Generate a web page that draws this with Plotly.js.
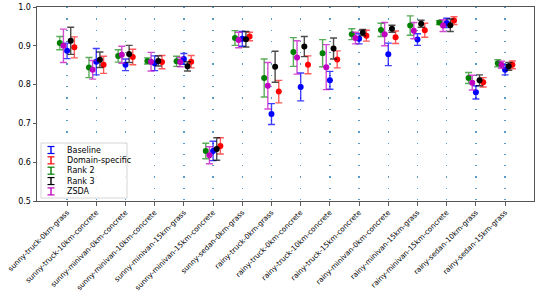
<!DOCTYPE html>
<html>
<head>
<meta charset="utf-8">
<script src="https://cdn.plot.ly/plotly-3.0.1.min.js"></script>
<style>html,body{margin:0;padding:0;background:#fff;}#chart{width:540px;height:291px;}</style>
</head>
<body>
<div id="chart"></div>
<script>
const categories = ['sunny-truck-0km-grass','sunny-truck-10km-concrete','sunny-minivan-0km-concrete','sunny-minivan-10km-concrete','sunny-minivan-15km-grass','sunny-minivan-15km-concrete','sunny-sedan-0km-grass','rainy-truck-0km-grass','rainy-truck-0km-concrete','rainy-truck-10km-concrete','rainy-truck-15km-concrete','rainy-minivan-0km-concrete','rainy-minivan-15km-grass','rainy-minivan-15km-concrete','rainy-sedan-10km-grass','rainy-sedan-15km-grass'];

const baseline    = [0.887,0.859,0.851,0.855,0.866,0.629,0.918,0.724,0.794,0.811,0.918,0.878,0.916,0.959,0.780,0.838];
const baselineErr = [0.020,0.034,0.015,0.019,0.014,0.025,0.019,0.027,0.036,0.023,0.013,0.029,0.015,0.012,0.017,0.013];

const domain    = [0.896,0.851,0.871,0.858,0.859,0.642,0.924,0.782,0.851,0.865,0.926,0.922,0.940,0.965,0.806,0.851];
const domainErr = [0.027,0.022,0.020,0.017,0.016,0.021,0.011,0.029,0.023,0.022,0.014,0.016,0.018,0.010,0.012,0.010];

const rank2    = [0.907,0.844,0.874,0.861,0.860,0.629,0.920,0.817,0.884,0.881,0.930,0.941,0.952,0.960,0.817,0.855];
const rank2Err = [0.017,0.026,0.016,0.008,0.013,0.020,0.019,0.049,0.037,0.035,0.014,0.017,0.025,0.005,0.014,0.009];

const rank3    = [0.913,0.864,0.879,0.861,0.847,0.634,0.917,0.846,0.898,0.893,0.934,0.944,0.957,0.953,0.811,0.847];
const rank3Err = [0.035,0.020,0.022,0.013,0.012,0.029,0.020,0.040,0.026,0.027,0.008,0.009,0.009,0.016,0.014,0.010];

const zsda    = [0.900,0.838,0.877,0.859,0.858,0.618,0.915,0.797,0.870,0.845,0.920,0.930,0.939,0.952,0.805,0.851];
const zsdaErr = [0.043,0.024,0.022,0.024,0.012,0.022,0.020,0.060,0.043,0.058,0.015,0.030,0.021,0.015,0.019,0.009];

const seriesNames = ['Baseline','Domain-specific','Rank 2','Rank 3','ZSDA'];
const seriesVals = [baseline, domain, rank2, rank3, zsda];
const seriesErrs = [baselineErr, domainErr, rank2Err, rank3Err, zsdaErr];
const seriesColors = ['#0000ff','#ff0000','#008000','#000000','#bf00bf'];
const errColors = ['rgba(0,0,255,0.75)','rgba(255,0,0,0.65)','rgba(0,128,0,0.65)','rgba(0,0,0,0.7)','rgba(191,0,191,0.7)'];
const offsets = [0, 0.25, -0.25, 0.125, -0.125];

const idx = categories.map((c,i)=>i);
const traces = seriesNames.map((name,s)=>({
  type:'scatter', mode:'markers', name:name,
  x: idx.map(i=>i+offsets[s]), y: seriesVals[s],
  marker:{color:seriesColors[s], size:6},
  error_y:{type:'data', array:seriesErrs[s], visible:true, color:errColors[s], thickness:1.4, width:3.5},
  hoverinfo:'y'
}));

// legend box (matplotlib-style), drawn in paper coordinates
const M = {l:37, r:6, t:7, b:90};
const W = 540, H = 291;
const pw = W - M.l - M.r, ph = H - M.t - M.b;
const px = v => (v - M.l) / pw;
const py = v => (H - M.b - v) / ph;
const shapes = [{type:'rect', xref:'paper', yref:'paper', x0:px(41), x1:px(127), y0:py(198), y1:py(143),
  line:{color:'#cccccc', width:0.8}, fillcolor:'rgba(255,255,255,0.85)', layer:'above'}];
const annotations = [];
seriesNames.forEach((name,s)=>{
  const rowY = 150 + s*10.35;
  const gx = 51;
  shapes.push({type:'line', xref:'paper', yref:'paper', x0:px(gx), x1:px(gx), y0:py(rowY-3.5), y1:py(rowY+3.5), line:{color:seriesColors[s], width:1.4}, layer:'above'});
  shapes.push({type:'line', xref:'paper', yref:'paper', x0:px(gx-3.5), x1:px(gx+3.5), y0:py(rowY-3.5), y1:py(rowY-3.5), line:{color:seriesColors[s], width:1.2}, layer:'above'});
  shapes.push({type:'line', xref:'paper', yref:'paper', x0:px(gx-3.5), x1:px(gx+3.5), y0:py(rowY+3.5), y1:py(rowY+3.5), line:{color:seriesColors[s], width:1.2}, layer:'above'});
  annotations.push({xref:'paper', yref:'paper', x:px(65), y:py(rowY), xanchor:'left', yanchor:'middle',
    text:name, showarrow:false, font:{family:'DejaVu Sans', size:8, color:'#000'}});
});

const layout = {
  width:W, height:H,
  margin:{l:M.l, r:M.r, t:M.t, b:M.b, pad:0},
  paper_bgcolor:'#fff', plot_bgcolor:'#fff',
  font:{family:'DejaVu Sans', size:8, color:'#000'},
  showlegend:false,
  shapes:shapes, annotations:annotations,
  xaxis:{
    range:[-1.03, 15.99], tickmode:'array', tickvals:idx, ticktext:categories,
    tickangle:-45, tickfont:{family:'DejaVu Sans', size:7.2, color:'#000'},
    showgrid:true, gridcolor:'rgba(31,119,180,0.75)', gridwidth:1.3, griddash:'1.3px,10px',
    zeroline:false, showline:true, linecolor:'#555', linewidth:1, mirror:true,
    ticks:'outside', ticklen:3.5, tickcolor:'#333', tickwidth:0.8
  },
  yaxis:{
    range:[0.5, 1.0], dtick:0.1, tick0:0.5, tickformat:'.1f',
    tickfont:{family:'DejaVu Sans', size:8, color:'#000'},
    showgrid:false, zeroline:false, showline:true, linecolor:'#555', linewidth:1, mirror:true,
    ticks:'outside', ticklen:3.5, tickcolor:'#333', tickwidth:0.8
  }
};

Plotly.newPlot('chart', traces, layout, {staticPlot:true, displayModeBar:false});
</script>
</body>
</html>
